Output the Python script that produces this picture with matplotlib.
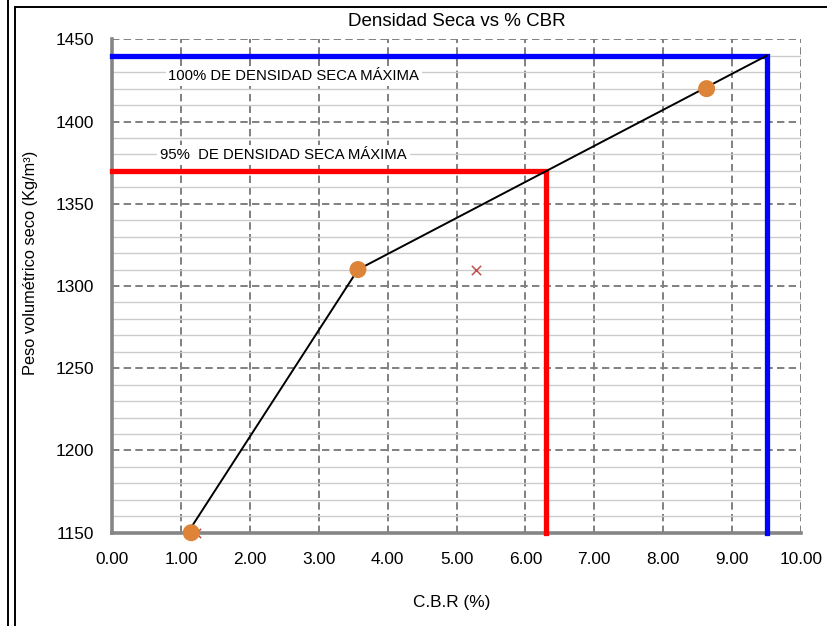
import matplotlib
matplotlib.use("Agg")
import matplotlib.pyplot as plt
from matplotlib.lines import Line2D
from matplotlib.ticker import MultipleLocator, FormatStrFormatter

plt.rcParams['font.family'] = ['Liberation Sans', 'DejaVu Sans']

# Ensayo CBR: densidad seca vs CBR
cbr_points = [1.15, 3.57, 8.63]
density_points = [1150, 1310, 1420]

# Curva de ajuste
curve_cbr = [1.10, 3.57, 9.50]
curve_density = [1150, 1310, 1440]

# Marcadores auxiliares
aux_cbr = [1.22, 5.29]
aux_density = [1150, 1310]

# Densidad seca máxima (100%) y 95%
max_cbr = 9.50
max_density = 1440
d95_cbr = 6.30
d95_density = 1370

title = "Densidad Seca vs % CBR"
xlabel = "C.B.R (%)"
ylabel = "Peso volumétrico seco (Kg/m³)"
label_100 = "100% DE DENSIDAD SECA MÁXIMA"
label_95 = "95%  DE DENSIDAD SECA MÁXIMA"

W, H = 828, 626
fig = plt.figure(figsize=(W / 100, H / 100), dpi=100)
ax_l, ax_r, ax_t, ax_b = 112, 801, 39.3, 532.7
ax = fig.add_axes([ax_l / W, 1 - ax_b / H, (ax_r - ax_l) / W, (ax_b - ax_t) / H])

ax.set_xlim(0, 10)
ax.set_ylim(1150, 1450)
ax.xaxis.set_major_locator(MultipleLocator(1))
ax.yaxis.set_major_locator(MultipleLocator(50))
ax.yaxis.set_minor_locator(MultipleLocator(10))
ax.xaxis.set_major_formatter(FormatStrFormatter('%.2f'))
ax.yaxis.set_major_formatter(FormatStrFormatter('%d'))

ax.grid(which='minor', axis='y', color='#cccccc', linewidth=1.0, linestyle='-', zorder=0)
ax.grid(which='major', color='#808080', linewidth=1.4, linestyle=(0, (3.8, 2.2)), zorder=0.5)
ax.set_axisbelow(True)

for side in ('top', 'right'):
    ax.spines[side].set_visible(False)
for side in ('left', 'bottom'):
    ax.spines[side].set_color('#858585')
    ax.spines[side].set_linewidth(2.6)

ax.tick_params(which='both', length=0, labelsize=12.4, colors='black')
ax.tick_params(axis='y', pad=13)
ax.tick_params(axis='x', pad=14)

# Líneas de referencia
ax.plot([0, max_cbr, max_cbr], [max_density, max_density, 1150],
        color='#0000ff', linewidth=3.8, solid_joinstyle='miter', zorder=3, clip_on=False)
ax.plot([0, d95_cbr, d95_cbr], [d95_density, d95_density, 1150],
        color='#ff0000', linewidth=3.8, solid_joinstyle='miter', zorder=3, clip_on=False)

# Curva y puntos
ax.plot(curve_cbr, curve_density, color='black', linewidth=1.4, zorder=4)
ax.scatter(aux_cbr, aux_density, marker='x', s=45, color='#c0504d',
           linewidths=1.1, zorder=4.5, clip_on=False)
ax.scatter(cbr_points, density_points, s=150, color='#dd8438',
           edgecolors='none', zorder=5, clip_on=False)

ax.text(0.82, 1427.5, label_100, fontsize=10.7, va='center', ha='left', zorder=2.5,
        bbox=dict(facecolor='white', edgecolor='none', pad=2))
ax.text(0.70, 1379.5, label_95, fontsize=10.7, va='center', ha='left', zorder=2.5,
        bbox=dict(facecolor='white', edgecolor='none', pad=2))

fig.text(457 / W, 1 - 22 / H, title, fontsize=13.5, ha='center', va='center')
fig.text(452 / W, 1 - 602 / H, xlabel, fontsize=12.4, ha='center', va='center')
fig.text(31 / W, 1 - 263 / H, ylabel, fontsize=11.8, ha='center', va='center', rotation=90)

# Marco
frame_kw = dict(color='black', linewidth=1.4, transform=None)
fig.add_artist(Line2D([8, 8], [0, H], **frame_kw))
fig.add_artist(Line2D([15, 15], [0, H - 7], **frame_kw))
fig.add_artist(Line2D([15, W], [H - 7, H - 7], **frame_kw))

fig.savefig('out.png', dpi=100)
